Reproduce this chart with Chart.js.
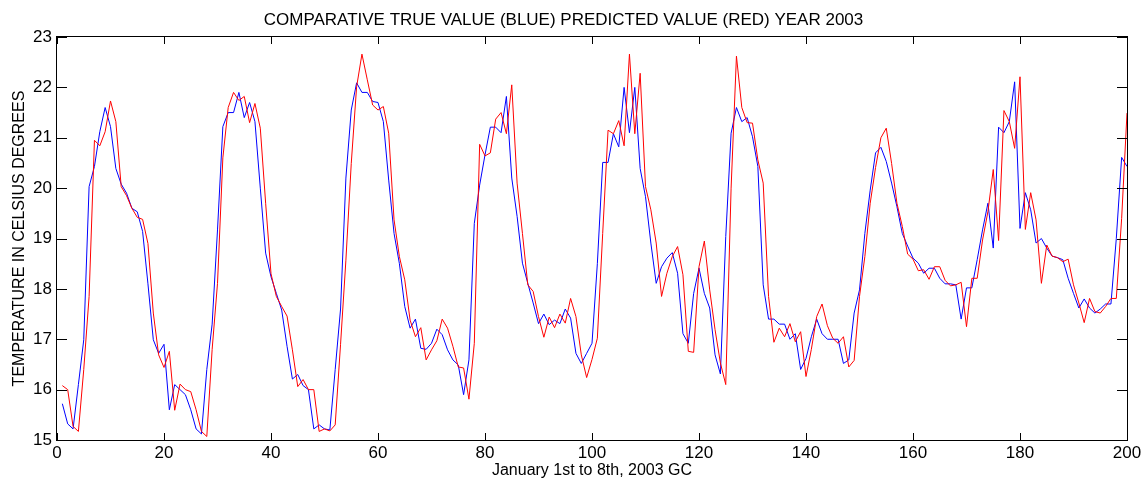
<!DOCTYPE html>
<html>
<head>
<meta charset="utf-8">
<script src="https://cdn.jsdelivr.net/npm/chart.js@4.4.1/dist/chart.umd.min.js"></script>
<style>
  html, body { margin: 0; padding: 0; background: #fff; }
  #wrap { width: 1146px; height: 484px; }
</style>
</head>
<body>
<div id="wrap"><canvas id="chart" width="1146" height="484"></canvas></div>
<script>
// ---- data ----
const TITLE = 'COMPARATIVE TRUE VALUE (BLUE) PREDICTED VALUE (RED) YEAR 2003';
const X_LABEL = 'January 1st to 8th, 2003 GC';
const Y_LABEL = 'TEMPERATURE IN CELSIUS DEGREES';

const xTicks = [0, 20, 40, 60, 80, 100, 120, 140, 160, 180, 200];
const yTicks = [15, 16, 17, 18, 19, 20, 21, 22, 23];

// true value (blue), samples 1..200
const trueValue = [
  15.72, 15.32, 15.22, 16.10, 16.99, 20.03, 20.43, 21.12, 21.60, 21.22,
  20.39, 20.08, 19.90, 19.60, 19.53, 19.14, 18.10, 16.99, 16.72, 16.90,
  15.60, 16.10, 16.00, 15.90, 15.60, 15.22, 15.12, 16.40, 17.30, 19.17,
  21.22, 21.50, 21.50, 21.90, 21.40, 21.70, 21.32, 20.00, 18.71, 18.24,
  17.91, 17.58, 16.86, 16.21, 16.30, 16.08, 16.00, 15.22, 15.30, 15.22,
  15.20, 16.40, 17.60, 20.20, 21.55, 22.09, 21.90, 21.90, 21.72, 21.70,
  21.32, 20.16, 19.10, 18.50, 17.65, 17.22, 17.40, 16.82, 16.80, 16.92,
  17.20, 17.09, 16.79, 16.59, 16.49, 15.90, 16.59, 19.30, 20.06, 20.66,
  21.21, 21.21, 21.10, 21.82, 20.20, 19.44, 18.51, 18.11, 17.72, 17.31,
  17.50, 17.29, 17.38, 17.31, 17.60, 17.42, 16.72, 16.52, 16.72, 16.92,
  18.50, 20.51, 20.51, 21.08, 20.82, 22.00, 21.10, 22.00, 20.39, 19.83,
  18.91, 18.11, 18.44, 18.61, 18.72, 18.31, 17.11, 16.92, 17.91, 18.41,
  17.91, 17.62, 16.69, 16.31, 19.04, 21.09, 21.60, 21.32, 21.40, 21.02,
  20.43, 18.08, 17.40, 17.40, 17.30, 17.30, 17.00, 17.11, 16.40, 16.62,
  17.05, 17.40, 17.11, 17.00, 17.00, 17.00, 16.52, 16.59, 17.52, 17.98,
  19.10, 19.96, 20.70, 20.81, 20.53, 20.10, 19.63, 19.10, 18.85, 18.61,
  18.51, 18.31, 18.41, 18.41, 18.21, 18.10, 18.10, 18.08, 17.40, 18.02,
  18.02, 18.58, 19.17, 19.70, 18.81, 21.21, 21.10, 21.32, 22.11, 19.20,
  19.91, 19.57, 18.91, 19.00, 18.81, 18.65, 18.62, 18.58, 18.21, 17.91,
  17.62, 17.80, 17.62, 17.52, 17.60, 17.70, 17.70, 19.00, 20.61, 20.43
];

// predicted value (red), samples 1..200
const predictedValue = [
  16.08, 16.00, 15.27, 15.17, 16.40, 17.85, 20.95, 20.84, 21.12, 21.73,
  21.32, 20.03, 19.85, 19.60, 19.42, 19.38, 18.90, 17.52, 16.69, 16.44,
  16.76, 15.59, 16.11, 16.00, 15.96, 15.60, 15.17, 15.07, 16.80, 18.11,
  20.60, 21.60, 21.90, 21.74, 21.82, 21.30, 21.68, 21.19, 19.70, 18.30,
  17.85, 17.65, 17.46, 16.79, 16.06, 16.20, 16.00, 16.00, 15.17, 15.22,
  15.18, 15.30, 16.90, 18.57, 20.49, 22.01, 22.66, 22.15, 21.65, 21.55,
  21.62, 21.09, 19.37, 18.64, 18.18, 17.38, 17.05, 17.23, 16.59, 16.79,
  16.97, 17.40, 17.22, 16.86, 16.45, 16.43, 15.81, 16.92, 20.87, 20.64,
  20.70, 21.37, 21.50, 21.08, 22.05, 20.10, 19.10, 18.08, 17.95, 17.45,
  17.04, 17.44, 17.23, 17.50, 17.32, 17.81, 17.45, 16.69, 16.24, 16.60,
  17.02, 19.10, 21.15, 21.08, 21.34, 20.84, 22.66, 21.08, 22.28, 20.03,
  19.57, 18.91, 17.85, 18.31, 18.64, 18.84, 18.28, 16.76, 16.74, 18.44,
  18.95, 17.98, 17.19, 16.53, 16.10, 20.00, 22.62, 21.60, 21.30, 21.29,
  20.56, 20.10, 17.85, 16.94, 17.22, 17.05, 17.31, 16.95, 17.15, 16.26,
  16.80, 17.45, 17.70, 17.27, 17.02, 16.92, 17.05, 16.45, 16.58, 17.85,
  18.64, 19.70, 20.41, 21.00, 21.19, 20.49, 19.70, 19.24, 18.69, 18.59,
  18.36, 18.38, 18.19, 18.44, 18.44, 18.17, 18.06, 18.08, 18.13, 17.25,
  18.21, 18.21, 18.97, 19.53, 20.37, 18.96, 21.54, 21.32, 20.79, 22.21,
  19.18, 19.91, 19.37, 18.11, 18.87, 18.65, 18.62, 18.54, 18.59, 18.08,
  17.72, 17.33, 17.81, 17.55, 17.52, 17.65, 17.81, 17.81, 19.40, 21.49
];

const samples = trueValue.map((_, i) => i + 1);

const FONT = 'Liberation Sans, Arial, Helvetica, sans-serif';
const toPoints = vals => vals.map((v, i) => ({ x: samples[i], y: v }));

// ---- box + inward ticks, MATLAB style ----
const frameTicks = {
  id: 'frameTicks',
  afterDatasetsDraw(chart) {
    const { ctx, chartArea: a, scales: { x, y } } = chart;
    ctx.save();
    ctx.strokeStyle = '#000';
    ctx.lineWidth = 1;
    ctx.beginPath();
    x.ticks.forEach(t => {
      const px = Math.round(x.getPixelForValue(t.value)) + 0.5;
      ctx.moveTo(px, a.bottom); ctx.lineTo(px, a.bottom - 7);
      ctx.moveTo(px, a.top);    ctx.lineTo(px, a.top + 7);
    });
    y.ticks.forEach(t => {
      const py = Math.round(y.getPixelForValue(t.value)) + 0.5;
      ctx.moveTo(a.left, py);  ctx.lineTo(a.left + 10, py);
      ctx.moveTo(a.right, py); ctx.lineTo(a.right - 10, py);
    });
    ctx.stroke();
    ctx.strokeRect(Math.round(a.left) - 0.5, Math.round(a.top) - 0.5,
                   Math.round(a.width) + 1, Math.round(a.height) + 1);
    ctx.restore();
  }
};

new Chart(document.getElementById('chart').getContext('2d'), {
  type: 'line',
  data: {
    datasets: [
      {
        label: 'Predicted value',
        data: toPoints(predictedValue),
        borderColor: '#ff0000',
        borderWidth: 1,
        pointRadius: 0,
        tension: 0,
        fill: false
      },
      {
        label: 'True value',
        data: toPoints(trueValue),
        borderColor: '#0000ff',
        borderWidth: 1,
        pointRadius: 0,
        tension: 0,
        fill: false
      }
    ]
  },
  options: {
    responsive: false,
    animation: false,
    events: [],
    layout: { padding: { left: 0, right: 19, top: 0, bottom: 0 } },
    scales: {
      x: {
        type: 'linear',
        min: 0, max: 200,
        afterBuildTicks: s => { s.ticks = xTicks.map(v => ({ value: v })); },
        afterFit: s => { s.height = 44; },
        ticks: { color: '#000', font: { family: FONT, size: 17 }, padding: 3, maxRotation: 0 },
        grid: { display: false, drawTicks: false },
        border: { display: false },
        title: { display: true, text: X_LABEL, color: '#000', font: { family: FONT, size: 16 }, padding: { top: 0, bottom: 4 } }
      },
      y: {
        type: 'linear',
        min: 15, max: 23,
        afterBuildTicks: s => { s.ticks = yTicks.map(v => ({ value: v })); },
        afterFit: s => { s.width = 57; },
        ticks: { color: '#000', font: { family: FONT, size: 17 }, padding: 5 },
        grid: { display: false, drawTicks: false },
        border: { display: false },
        title: { display: true, text: Y_LABEL, color: '#000', font: { family: FONT, size: 16 }, padding: { top: 10, bottom: 0 } }
      }
    },
    plugins: {
      legend: { display: false },
      tooltip: { enabled: false },
      title: {
        display: true,
        text: TITLE,
        color: '#000',
        font: { family: FONT, size: 17, weight: 'normal' },
        padding: { top: 10, bottom: 6.6 }
      }
    }
  },
  plugins: [frameTicks]
});
</script>
</body>
</html>
